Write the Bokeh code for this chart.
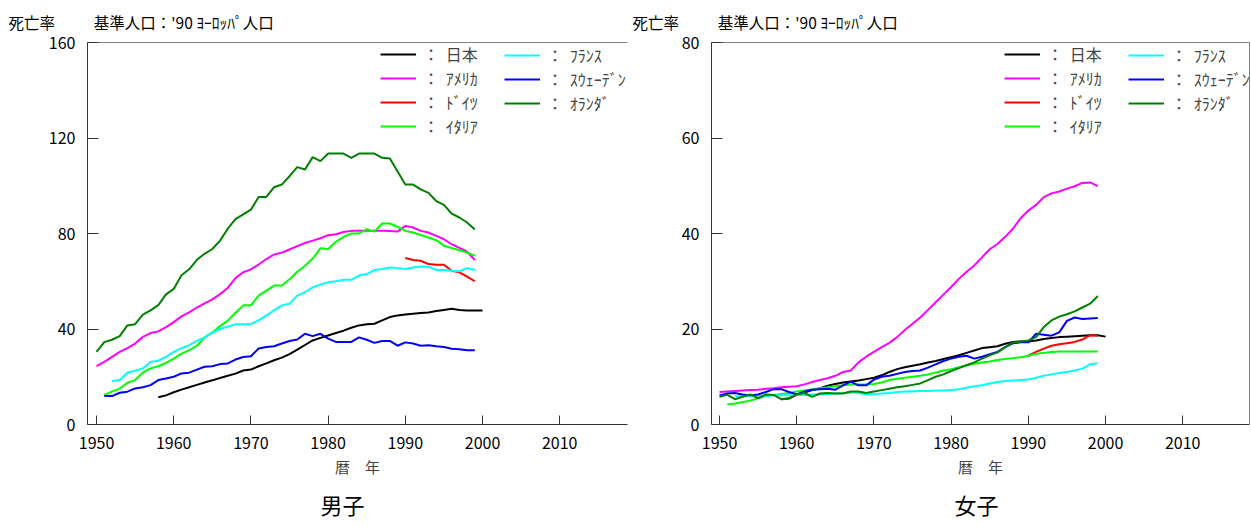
from bokeh.plotting import figure
from bokeh.layouts import row
from bokeh.models import (Range1d, FixedTicker, LinearAxis, Legend, LegendItem, Title)
from bokeh.embed import file_html
from bokeh.resources import INLINE

FONT = "Noto Sans CJK JP"

countries = ["日本", "ｱﾒﾘｶ", "ﾄﾞｲﾂ", "ｲﾀﾘｱ", "ﾌﾗﾝｽ", "ｽｳｪｰﾃﾞﾝ", "ｵﾗﾝﾀﾞ"]
colors = ["#000000", "#FF00FF", "#FF0000", "#00FF00", "#00FFFF", "#0000FF", "#008000"]
x_ticks = [1950, 1960, 1970, 1980, 1990, 2000, 2010]
male_y_ticks = [0, 40, 80, 120, 160]
female_y_ticks = [0, 20, 40, 60, 80]

# first year of each series (order = countries)
male_start = [1958, 1950, 1990, 1951, 1952, 1951, 1950]
female_start = [1958, 1950, 1990, 1951, 1952, 1950, 1950]

male_japan = [11.4, 12.2, 13.5, 14.6, 15.6, 16.6, 17.6, 18.5, 19.5, 20.4, 21.3, 22.6,
              23.0, 24.4, 25.6, 26.9, 28.0, 29.5, 31.4, 33.3, 35.2, 36.3,
              37.3, 38.3, 39.3, 40.5, 41.5, 42.0, 42.2, 43.6, 45.0, 45.7,
              46.1, 46.4, 46.7, 46.9, 47.5, 48.0, 48.5, 48.0, 47.8, 47.8, 47.8]
male_usa = [24.4, 26.2, 28.3, 30.4, 32.0, 33.9, 36.7, 38.3, 39.0, 40.8,
            42.9, 45.3, 47.0, 49.0, 50.7, 52.4, 54.6, 57.2, 61.3, 63.75,
            65.0, 67.0, 69.3, 71.2, 72.0, 73.3, 74.7, 76.0, 77.0, 78.0,
            79.3, 79.7, 80.6, 81.1, 81.1, 81.1, 81.1, 81.1, 81.0, 80.8,
            83.2, 82.5, 81.1, 80.4, 79.0, 77.6, 75.5, 74.0, 72.4, 68.9]
male_germany = [69.7, 68.9, 68.6, 67.2, 66.9, 66.9, 64.4, 63.75, 61.9, 60.0]
male_italy = [12.4, 13.75, 15.0, 17.5, 18.6, 21.7, 23.5, 24.4, 25.8,
              27.6, 29.7, 31.1, 33.0, 36.5, 38.5, 41.2, 43.5, 46.8, 49.9,
              49.9, 54.0, 56.1, 58.2, 58.2, 60.8, 64.0, 66.5, 69.5, 73.8,
              73.5, 76.5, 78.6, 80.0, 80.0, 81.8, 80.8, 84.2, 84.2, 82.8,
              81.1, 80.4, 79.4, 78.3, 77.2, 74.9, 73.9, 73.0, 72.0, 70.7]
male_france = [18.2, 18.6, 21.7, 22.5, 23.5, 26.2, 26.7, 28.3,
               30.4, 32.0, 33.2, 35.0, 36.5, 38.5, 40.0, 41.0, 42.0, 42.0,
               42.0, 43.6, 45.7, 47.8, 49.9, 50.6, 54.0, 55.4, 57.5, 58.6,
               59.6, 60.0, 60.6, 60.6, 62.4, 63.0, 64.7, 65.1, 65.8, 65.5,
               65.1, 65.8, 66.2, 66.1, 64.7, 64.7, 64.4, 64.2, 65.5, 64.7]
male_sweden = [11.9, 11.9, 13.3, 13.75, 15.1, 15.6, 16.5, 18.6, 19.3,
               20.0, 21.4, 21.7, 23.0, 24.2, 24.4, 25.3, 25.6, 27.2, 28.3,
               28.6, 31.8, 32.5, 32.8, 33.9, 35.0, 35.6, 38.0, 37.0, 38.0,
               36.0, 34.6, 34.6, 34.6, 36.5, 35.5, 34.2, 35.0, 35.0, 33.0,
               34.4, 33.9, 33.0, 33.2, 32.8, 32.5, 31.7, 31.5, 31.1, 31.1]
male_netherlands = [30.4, 34.5, 35.5, 37.0, 41.5, 42.0, 46.0, 47.8, 50.0, 54.5,
                    56.8, 62.5, 65.0, 69.0, 71.5, 73.5, 77.0, 82.0, 86.0, 88.0,
                    90.0, 95.3, 95.3, 99.4, 100.5, 104.0, 107.8, 106.8, 112.0, 110.3,
                    113.5, 113.5, 113.5, 111.7, 113.5, 113.5, 113.5, 111.7, 111.4, 106.0,
                    100.5, 100.5, 98.5, 97.0, 93.6, 92.0, 88.3, 86.7, 84.6, 81.7]

female_japan = [5.3, 5.5, 6.2, 6.7, 7.2, 7.6, 8.1, 8.5, 8.8, 9.0, 9.2, 9.5,
                9.8, 10.3, 11.0, 11.6, 12.0, 12.3, 12.6, 13.0, 13.3, 13.7,
                14.1, 14.5, 15.0, 15.5, 16.0, 16.2, 16.4, 16.9, 17.3, 17.4,
                17.4, 17.6, 17.9, 18.1, 18.3, 18.4, 18.5, 18.6, 18.7, 18.7, 18.4]
female_usa = [6.8, 6.9, 7.0, 7.1, 7.2, 7.3, 7.5, 7.6, 7.8, 7.9,
              8.0, 8.4, 8.9, 9.3, 9.7, 10.2, 11.0, 11.3, 13.0, 14.2,
              15.2, 16.2, 17.1, 18.3, 19.8, 21.1, 22.4, 24.0, 25.6, 27.2,
              28.8, 30.5, 32.0, 33.3, 35.0, 36.7, 37.8, 39.3, 41.0, 43.2,
              44.8, 46.0, 47.6, 48.4, 48.8, 49.4, 49.9, 50.6, 50.7, 49.9]
female_germany = [14.4, 15.2, 15.9, 16.5, 16.8, 17.0, 17.3, 17.8, 18.7, 18.6]
female_italy = [4.2, 4.4, 4.7, 5.0, 5.5, 6.0, 6.2, 6.4, 6.6,
                6.9, 7.1, 7.4, 7.6, 7.8, 8.0, 8.2, 8.4, 8.4, 8.4,
                8.5, 8.8, 9.3, 9.6, 9.8, 10.0, 10.2, 10.5, 10.9, 11.3,
                11.6, 12.0, 12.4, 12.7, 13.0, 13.2, 13.5, 13.7, 13.9, 14.1,
                14.4, 14.8, 15.0, 15.2, 15.3, 15.3, 15.3, 15.3, 15.3, 15.3]
female_france = [5.9, 5.9, 5.9, 6.0, 6.0, 6.1, 6.1, 6.1,
                 6.2, 6.2, 6.3, 6.3, 6.4, 6.5, 6.6, 6.7, 6.6, 6.3,
                 6.4, 6.5, 6.6, 6.8, 6.9, 6.9, 7.0, 7.0, 7.1, 7.1,
                 7.2, 7.4, 7.7, 8.0, 8.2, 8.6, 8.9, 9.1, 9.2, 9.3,
                 9.4, 9.8, 10.2, 10.5, 10.8, 11.0, 11.3, 11.7, 12.6, 12.8]
female_sweden = [6.1, 6.5, 6.6, 6.3, 6.1, 6.3, 6.8, 7.4, 7.4, 6.8,
                 6.3, 6.9, 7.3, 7.4, 7.5, 7.3, 8.2, 9.0, 8.2, 8.2,
                 9.4, 10.0, 10.2, 10.6, 11.0, 11.2, 11.3, 11.9, 12.6, 13.3,
                 13.8, 14.2, 14.4, 13.8, 14.2, 14.7, 15.2, 16.2, 17.0, 17.2,
                 17.2, 19.0, 18.8, 18.6, 19.3, 21.7, 22.4, 22.1, 22.2, 22.3]
female_netherlands = [5.8, 6.2, 5.3, 5.8, 6.3, 5.5, 6.3, 6.2, 5.3, 5.4,
                      6.3, 6.6, 5.8, 6.5, 6.6, 6.5, 6.5, 6.9, 6.9, 6.6,
                      6.9, 7.2, 7.5, 7.8, 8.0, 8.3, 8.6, 9.3, 10.0, 10.5,
                      11.2, 11.8, 12.4, 13.0, 13.8, 14.5, 15.1, 16.2, 17.2, 17.4,
                      17.6, 18.3, 20.4, 21.8, 22.6, 23.1, 23.7, 24.5, 25.3, 26.9]

male_series = [male_japan, male_usa, male_germany, male_italy, male_france, male_sweden, male_netherlands]
female_series = [female_japan, female_usa, female_germany, female_italy, female_france, female_sweden, female_netherlands]

y_label = "死亡率"
note = "基準人口：'90 ﾖｰﾛｯﾊﾟ人口"
x_label = "暦　年"

AXIS_COLOR = "#333333"
FRAME_COLOR = "#808080"


def make(title, ymax, yticks, starts, series, width, bl, br, xstart, xend, title_off, right_line):
    p = figure(width=width, height=526, output_backend="svg", toolbar_location=None,
               x_range=Range1d(xstart, xend), y_range=Range1d(0, ymax),
               min_border_left=bl, min_border_right=br, min_border_top=42, min_border_bottom=102)
    p.outline_line_color = None
    p.grid.visible = False
    p.background_fill_color = "white"
    p.border_fill_color = "white"

    for ax in (p.xaxis[0], p.yaxis[0]):
        ax.axis_line_color = AXIS_COLOR
        ax.major_tick_line_color = AXIS_COLOR
        ax.major_tick_out = 0
        ax.minor_tick_in = 0
        ax.minor_tick_out = 0
        ax.major_label_text_font = FONT
        ax.major_label_text_font_size = "16px"
        ax.major_label_text_color = "#000000"
    p.xaxis.ticker = FixedTicker(ticks=x_ticks)
    p.xaxis.major_tick_in = 9
    p.xaxis.major_label_standoff = 12
    p.xaxis.axis_label = x_label
    p.xaxis.axis_label_text_font = FONT
    p.xaxis.axis_label_text_font_size = "15px"
    p.xaxis.axis_label_text_font_style = "normal"
    p.xaxis.axis_label_standoff = 4
    p.yaxis.ticker = FixedTicker(ticks=yticks)
    p.yaxis.major_tick_in = 11
    p.yaxis.major_label_standoff = 12

    top = LinearAxis(ticker=FixedTicker(ticks=[]), axis_line_color=FRAME_COLOR,
                     major_tick_in=0, major_tick_out=0, minor_tick_in=0, minor_tick_out=0,
                     major_label_text_font_size="0px", major_label_standoff=0)
    p.add_layout(top, "above")
    if right_line:
        rt = LinearAxis(ticker=FixedTicker(ticks=[]), axis_line_color=FRAME_COLOR,
                        major_tick_in=0, major_tick_out=0, minor_tick_in=0, minor_tick_out=0,
                        major_label_text_font_size="0px", major_label_standoff=0)
        p.add_layout(rt, "right")

    items = []
    for name, col, start, vals in zip(countries, colors, starts, series):
        xs = list(range(start, start + len(vals)))
        r = p.line(xs, vals, line_color=col, line_width=2)
        items.append(LegendItem(label="： \u2009" + name, renderers=[r]))

    common = dict(orientation="vertical", glyph_width=36, glyph_height=20, label_height=20,
                  spacing=-2, padding=0, margin=0, border_line_color=None,
                  background_fill_alpha=0, label_text_font=FONT, label_text_font_size="16px",
                  label_standoff=7)
    p.add_layout(Legend(items=items[:4], location=(293, 286), **common))
    p.add_layout(Legend(items=items[4:], location=(417, 309), **common))

    head = Title(text=y_label + "\u3000\u3000\u2002" + note, align="left", offset=-79,
                 standoff=15, vertical_align="top", text_font=FONT, text_font_size="15.5px",
                 text_font_style="normal", text_color="#000000")
    p.add_layout(head, "above")
    foot = Title(text=title, align="left", offset=title_off, standoff=12,
                 vertical_align="bottom",
                 text_font=FONT, text_font_size="22px", text_font_style="normal",
                 text_color="#000000")
    p.add_layout(foot, "below")
    return p


p1 = make("男子", 160, male_y_ticks, male_start, male_series, 630, 87, 3,
          1948.83, 2018.78, 233, False)
p2 = make("女子", 80, female_y_ticks, female_start, female_series, 621, 81, 2,
          1948.96, 2018.65, 243, True)

layout = row(p1, p2)
open("out.html", "w").write(file_html(layout, INLINE))
